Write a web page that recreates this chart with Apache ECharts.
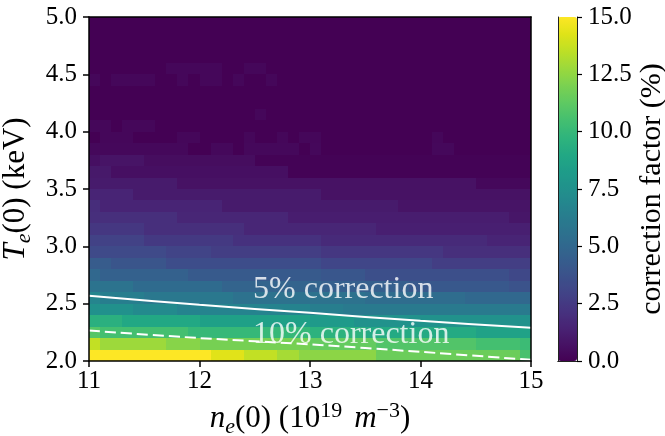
<!DOCTYPE html>
<html><head><meta charset="utf-8">
<script src="https://cdn.jsdelivr.net/npm/echarts@6/dist/echarts.min.js"></script>
<style>html,body{margin:0;padding:0;background:#fff}#c{width:665px;height:436px}</style>
</head><body><div id="c"></div>
<script>
// ---- data: correction factor (%) per cell, one array per Te(0) row (lower edge in keV), 40 ne(0) cells 11.0..15.0 ----
const r20 = [15,15,15,15,15,15,15,15,15,15, 15,14.3,14.3,14.3,13.6,13.6,13.6,13,13,12.4, 12.4,12.4,12.4,12.4,12.4,12.4,11.6,11.6,11.6,11.6, 11.6,11.6,11.6,11.6,11.6,11.6,11.6,11.6,11.6,10.6];
const r21 = [13.6,12.8,12.8,12.8,12.8,12.8,12.8,12.3,12.3,12.3, 11.9,11.9,11.9,11.9,11.9,11.9,11.9,11.9,11.9,11.9, 11.4,11.4,11.4,11.4,11.4,11.4,10.9,10.9,10.9,10.9, 10.9,10.9,10.9,10.9,10.9,10.5,10.5,10.5,10.5,10.2];
const r22 = [11,10.5,10.5,10.5,10.5,10.5,10.5,10.5,10.5,10, 10,10,10,10,10,10,10,10,10,10, 9.6,9.6,9.6,9.6,9.6,9.1,9.1,9.1,9.1,9.1, 9.1,9.1,9.1,9.1,9.1,8.6,8.6,8.6,8.6,8.6];
const r23 = [9.5,9.5,9.5,9,9,9,9,9,9,9, 8.5,8.5,8.5,8.5,8.5,8.5,8.5,8.5,8.5,8.5, 8.1,8.1,8.1,8.1,7.6,7.6,7.6,7.6,7.6,7.6, 7.6,7.6,7.6,7.6,7.6,7.6,7.6,7.6,7.6,7.6];
const r24 = [7.5,7.5,7.5,7.5,7.1,7.1,7.1,7.1,6.7,6.7, 6.7,6.7,6.7,6.7,6.7,6.7,6.7,6.7,6.7,6.7, 6.4,6.4,6.4,6.1,6.1,6.1,6.1,6.1,6.1,6.1, 6.1,6.1,6.1,6.1,6.1,6.1,6.1,6.1,6.1,6.1];
const r25 = [6.8,6.4,6.4,6.4,6.4,6,6,6,6,6, 6,6,6,5.6,5.6,5.6,5.6,5.6,5.6,5.6, 5.6,5.6,5.6,5.6,5.6,5.3,5.3,5.3,5.3,5.3, 5.3,5.3,5.3,5.3,5,5,5,5,5,5];
const r26 = [5.7,5.7,5.7,5.7,5.2,5.2,5.2,5.2,5.2,5.2, 5.2,5.2,4.8,4.8,4.8,4.8,4.8,4.8,4.8,4.8, 4.8,4.5,4.5,4.5,4.5,4.5,4.5,4.5,4.5,4.1, 4.1,4.1,4.1,4.1,4.1,4.1,4.1,4.1,3.8,3.8];
const r27 = [5,4.6,4.6,4.6,4.6,4.6,4.6,4.6,4.6,4.2, 4.2,4.2,4.2,4.2,4.2,4.2,4.2,4.2,4.2,4.2, 4.2,4,4,4,4,3.6,3.6,3.6,3.6,3.6, 3.6,3.6,3.6,3.6,3.6,3.6,3.6,3.6,3.2,3.2];
const r28 = [4.3,4.3,3.9,3.9,3.9,3.9,3.9,3.5,3.5,3.5, 3.5,3.5,3.5,3.5,3.5,3.5,3.5,3.5,3.5,3.5, 3.5,3.1,3.1,3.1,3.1,3.1,3.1,3.1,3.1,3.1, 3.1,2.7,2.7,2.7,2.7,2.7,2.7,2.7,2.7,2.7];
const r29 = [3.3,3.3,3.3,3.3,3.3,3.3,3.3,3,3,3, 3,2.7,2.7,2.7,2.7,2.7,2.7,2.7,2.7,2.7, 2.7,2.4,2.4,2.4,2.4,2.4,2.4,2.4,2.4,2.4, 2.4,2.4,2,2,2,2,2,2,2,2];
const r30 = [2.9,2.9,2.9,2.9,2.9,2.5,2.5,2.5,2.5,2.5, 2.5,2.5,2.5,2.1,2.1,2.1,2.1,2.1,2.1,2.1, 2.1,1.8,1.8,1.8,1.8,1.8,1.8,1.8,1.8,1.8, 1.8,1.8,1.8,1.8,1.8,1.8,1.5,1.5,1.5,1.5];
const r31 = [2.4,2.4,2.4,2.4,2.4,2,2,2,2,2, 2,2,2,2,1.6,1.6,1.6,1.6,1.6,1.6, 1.6,1.6,1.6,1.6,1.6,1.6,1.3,1.3,1.3,1.3, 1.3,1.3,1.3,1.3,1.3,1.3,1.3,1.3,1.3,1.3];
const r32 = [2,2,2,2,2,2,2,2,1.6,1.6, 1.6,1.6,1.6,1.6,1.6,1.6,1.6,1.6,1.2,1.2, 1.2,1.2,1.2,1.2,1.2,1.2,1.2,1.2,1.2,1.2, 1.2,1.2,1.2,1.2,1.2,1.2,1.2,1.2,0.9,0.9];
const r33 = [1.9,1.5,1.5,1.5,1.5,1.5,1.5,1.5,1.5,1.5, 1.5,1.5,1.1,1.1,1.1,1.1,1.1,1.1,1.1,1.1, 1.1,1.1,1.1,1.1,1.1,1.1,1.1,1.1,0.8,0.8, 0.8,0.8,0.8,0.8,0.8,0.8,0.8,0.8,0.8,0.8];
const r34 = [1.5,1.5,1.5,1.5,1.1,1.1,1.1,1.1,1.1,1.1, 1.1,1.1,1.1,1.1,1.1,1.1,1.1,1.1,1.1,1.1, 1.1,0.7,0.7,0.7,0.7,0.7,0.7,0.7,0.7,0.7, 0.7,0.7,0.7,0.7,0.7,0.7,0.7,0.7,0.7,0.7];
const r35 = [1.1,1.1,1.1,1.1,1.1,1.1,1.1,1.1,0.7,0.7, 0.7,0.7,0.7,0.7,0.7,0.7,0.7,0.7,0.7,0.7, 0.7,0.7,0.7,0.7,0.7,0.7,0.7,0.7,0.7,0.7, 0.7,0.7,0.7,0.7,0.7,0.3,0.3,0.3,0.3,0.3];
const r36 = [1,1,0.6,0.6,0.6,0.6,0.6,0.6,0.6,0.6, 0.6,0.6,0.6,0.6,0.6,0.6,0.6,0.6,0.1,0.1, 0.1,0.1,0.1,0.1,0.1,0.1,0.1,0.1,0.1,0.1, 0.1,0.1,0.1,0.1,0.1,0.1,0.1,0.1,0.1,0.1];
const r37 = [0.6,0.8,0.8,0.8,0.8,0.5,0.5,0.5,0.5,0.5, 0.5,0.5,0.5,0.5,0.5,0.1,0.1,0.1,0.1,0.1, 0.1,0.1,0.1,0.1,0.1,0.1,0.1,0.1,0.1,0.1, 0.1,0.1,0.1,0.1,0.1,0.1,0.1,0.1,0.1,0.1];
const r38 = [0.3,0.3,0.3,0.3,0.3,0.3,0.3,0.3,0.3,0, 0,0.3,0.3,0,0.3,0.3,0.3,0.3,0.3,0, 0.3,0,0,0,0,0,0,0,0,0, 0,0.3,0.3,0,0,0,0,0,0,0];
const r39 = [0,0.25,0.25,0.25,0,0,0,0,0.25,0.25, 0,0,0,0,0.25,0,0,0.25,0,0.25, 0.25,0,0,0,0,0,0,0,0,0, 0,0.25,0,0,0,0,0,0,0,0];
const r40 = [0.25,0.25,0,0.25,0.25,0.25,0,0,0,0, 0,0,0,0,0,0,0,0,0,0, 0,0,0,0,0,0,0,0,0,0, 0,0,0,0,0,0,0,0,0,0];
const r41 = [0,0,0,0,0,0,0,0,0,0, 0,0,0,0,0,0.25,0,0,0,0, 0,0,0,0,0,0,0,0,0,0, 0,0,0,0,0,0,0,0,0,0];
const r42 = [0,0,0,0,0,0,0,0,0,0, 0,0,0,0,0,0,0,0,0,0, 0,0,0,0,0,0,0,0,0,0, 0,0,0,0,0,0,0,0,0,0];
const r43 = [0,0,0,0,0,0,0,0,0,0, 0,0,0,0,0,0,0,0,0,0, 0,0,0,0,0,0,0,0,0,0, 0,0,0,0,0,0,0,0,0,0];
const r44 = [0.25,0,0.25,0.25,0.25,0.25,0,0,0.25,0, 0.25,0.25,0,0.25,0,0,0.25,0,0,0, 0,0,0,0,0,0,0,0,0,0, 0,0,0,0,0,0,0,0,0,0];
const r45 = [0,0,0,0,0,0,0,0.25,0.25,0.25, 0.25,0.25,0,0,0.25,0.25,0,0,0,0, 0,0,0,0,0,0,0,0,0,0, 0,0,0,0,0,0,0,0,0,0];
const r46 = [0,0,0,0,0,0,0,0,0,0, 0,0,0,0,0,0,0,0,0,0, 0,0,0,0,0,0,0,0,0,0, 0,0,0,0,0,0,0,0,0,0];
const r47 = [0,0,0,0,0,0,0,0,0,0, 0,0,0,0,0,0,0,0,0,0, 0,0,0,0,0,0,0,0,0,0, 0,0,0,0,0,0,0,0,0,0];
const r48 = [0,0,0,0,0,0,0,0,0,0, 0,0,0,0,0,0,0,0,0,0, 0,0,0,0,0,0,0,0,0,0, 0,0,0,0,0,0,0,0,0,0];
const r49 = [0,0,0,0,0,0,0,0,0,0, 0,0,0,0,0,0,0,0,0,0, 0,0,0,0,0,0,0,0,0,0, 0,0,0,0,0,0,0,0,0,0];

// contour lines (ne(0), Te(0))
const line5Ne  = [11, 12, 13, 14, 15];
const line5Te  = [2.57, 2.49, 2.42, 2.35, 2.29];
const line10Ne = [11, 12, 13, 14, 15];
const line10Te = [2.265, 2.20, 2.145, 2.08, 2.01];

// annotations
const noteTexts = ['5% correction', '10% correction'];
const noteNe = [12.48, 12.48];
const noteTe = [2.625, 2.234];

// axes
const neMin = 11, neMax = 15, neStep = 1, neCell = 0.1;
const teMin = 2.0, teMax = 5.0, teStep = 0.5, teCell = 0.1;
const cbMin = 0, cbMax = 15, cbStep = 2.5;

const rows = [r20,r21,r22,r23,r24,r25,r26,r27,r28,r29,r30,r31,r32,r33,r34,r35,r36,r37,r38,r39,r40,r41,r42,r43,r44,r45,r46,r47,r48,r49];

const viridis = ['#440154','#471365','#482475','#463480','#414487','#3b528b','#355f8d','#2f6c8e','#2a788e','#25848e','#21918c','#1e9c89','#22a884','#2fb47c','#44bf70','#5ec962','#7ad151','#9bd93c','#bddf26','#dfe318','#fde725'];

const cells = [];
rows.forEach((row, j) => row.forEach((v, i) => cells.push([neMin + neCell * i, teMin + teCell * j, v])));

const FONT = "'Liberation Serif','Times New Roman',serif";
const G = {left: 89, top: 17, width: 442, height: 344, outerBoundsMode: 'none', containLabel: false};
const CB = {left: 558, top: 17, width: 19, height: 344, outerBoundsMode: 'none', containLabel: false};
const spine = {color: '#000', width: 1.5};
const cbLine = {color: '#222', width: 1};

const richName = {
  r: {fontFamily: FONT, fontSize: 31, color: '#000', lineHeight: 38, verticalAlign: 'middle'},
  i: {fontFamily: FONT, fontSize: 31, fontStyle: 'italic', color: '#000', lineHeight: 38, verticalAlign: 'middle'},
  s: {fontFamily: FONT, fontSize: 22, fontStyle: 'italic', color: '#000', lineHeight: 38, verticalAlign: 'bottom'},
  p: {fontFamily: FONT, fontSize: 22, color: '#000', lineHeight: 38, verticalAlign: 'top'},
  g: {fontFamily: FONT, fontSize: 31, color: '#000', lineHeight: 38, verticalAlign: 'middle', width: 12}
};

const chart = echarts.init(document.getElementById('c'), null, {renderer: 'canvas'});
chart.setOption({
  animation: false,
  backgroundColor: '#fff',
  grid: [G, CB],
  xAxis: [
    {type: 'value', gridIndex: 0, min: neMin, max: neMax, interval: neStep, position: 'bottom', z: 10,
     axisLine: {show: true, onZero: false, lineStyle: spine},
     axisTick: {show: true, inside: false, length: 6, lineStyle: {color: '#000', width: 1.5}},
     axisLabel: {fontFamily: FONT, fontSize: 25, color: '#000', margin: 8},
     splitLine: {show: false},
     name: '{i|n}{s|e}{r|(0) (10}{p|19}{g| }{i|m}{p|\u22123}{r|)}',
     nameLocation: 'middle', nameGap: 39,
     nameTextStyle: {fontFamily: FONT, fontSize: 31, color: '#000', rich: richName}},
    {type: 'value', gridIndex: 0, min: neMin, max: neMax, position: 'top', z: 10,
     axisLine: {show: true, onZero: false, lineStyle: spine}, axisTick: {show: false}, axisLabel: {show: false}, splitLine: {show: false}},
    {type: 'category', gridIndex: 1, data: ['c'], position: 'bottom', z: 10,
     axisLine: {show: true, lineStyle: cbLine}, axisTick: {show: false}, axisLabel: {show: false}},
    {type: 'category', gridIndex: 1, data: ['c'], position: 'top', z: 10,
     axisLine: {show: true, lineStyle: cbLine}, axisTick: {show: false}, axisLabel: {show: false}}
  ],
  yAxis: [
    {type: 'value', gridIndex: 0, min: teMin, max: teMax, interval: teStep, position: 'left', z: 10,
     axisLine: {show: true, onZero: false, lineStyle: spine},
     axisTick: {show: true, inside: false, length: 6, lineStyle: {color: '#000', width: 1.5}},
     axisLabel: {fontFamily: FONT, fontSize: 25, color: '#000', margin: 12, formatter: v => v.toFixed(1)},
     splitLine: {show: false},
     name: '{i|T}{s|e}{r|(0) (keV)}',
     nameLocation: 'middle', nameGap: 46, nameRotate: 90,
     nameTextStyle: {fontFamily: FONT, fontSize: 31, color: '#000', rich: richName}},
    {type: 'value', gridIndex: 0, min: teMin, max: teMax, position: 'right', z: 10,
     axisLine: {show: true, onZero: false, lineStyle: spine}, axisTick: {show: false}, axisLabel: {show: false}, splitLine: {show: false}},
    {type: 'value', gridIndex: 1, min: cbMin, max: cbMax, interval: cbStep, position: 'right', z: 10,
     axisLine: {show: true, onZero: false, lineStyle: cbLine},
     axisTick: {show: true, inside: false, length: 5, lineStyle: {color: '#000', width: 1.2}},
     axisLabel: {fontFamily: FONT, fontSize: 25, color: '#000', margin: 11, formatter: v => v.toFixed(1)},
     splitLine: {show: false},
     name: 'correction factor (%)', nameLocation: 'middle', nameGap: 60, nameRotate: 90,
     nameTextStyle: {fontFamily: FONT, fontSize: 30, color: '#000'}},
    {type: 'value', gridIndex: 1, min: cbMin, max: cbMax, position: 'left', z: 10,
     axisLine: {show: true, onZero: false, lineStyle: cbLine}, axisTick: {show: false}, axisLabel: {show: false}, splitLine: {show: false}}
  ],
  visualMap: {
    type: 'continuous', min: cbMin, max: cbMax, seriesIndex: 0, dimension: 2, orient: 'vertical',
    left: CB.left, top: CB.top, itemWidth: CB.width, itemHeight: CB.height, padding: 0,
    calculable: false, hoverLink: false, show: true,
    inRange: {color: viridis}
  },
  series: [
    {type: 'custom', xAxisIndex: 0, yAxisIndex: 0, data: cells, silent: true, z: 2,
     encode: {x: 0, y: 1},
     renderItem: (params, api) => {
       const a = api.coord([api.value(0), api.value(1)]);
       const b = api.coord([api.value(0) + neCell, api.value(1) + teCell]);
       const x0 = Math.round(a[0]), x1 = Math.round(b[0]);
       const y0 = Math.round(b[1]), y1 = Math.round(a[1]);
       return {type: 'rect', shape: {x: x0, y: y0, width: x1 - x0, height: y1 - y0},
               style: {fill: api.visual('color'), stroke: null}};
     }},
    {type: 'line', xAxisIndex: 0, yAxisIndex: 0, data: line5Ne.map((x, k) => [x, line5Te[k]]),
     smooth: 0.3, symbol: 'none', silent: true, z: 5,
     lineStyle: {color: '#fff', width: 2}},
    {type: 'line', xAxisIndex: 0, yAxisIndex: 0, data: line10Ne.map((x, k) => [x, line10Te[k]]),
     smooth: 0.3, symbol: 'none', silent: true, z: 5,
     lineStyle: {color: '#fff', width: 2, type: [11, 5]}},
    {type: 'scatter', xAxisIndex: 0, yAxisIndex: 0, silent: true, z: 6,
     data: noteNe.map((x, k) => ({value: [x, noteTe[k]], name: noteTexts[k]})),
     symbolSize: 1, itemStyle: {color: 'rgba(0,0,0,0)'},
     label: {show: true, position: 'right', distance: 0, formatter: p => p.name,
             fontFamily: FONT, fontSize: 32, color: '#fff'}}
  ]
});
</script>
</body></html>
